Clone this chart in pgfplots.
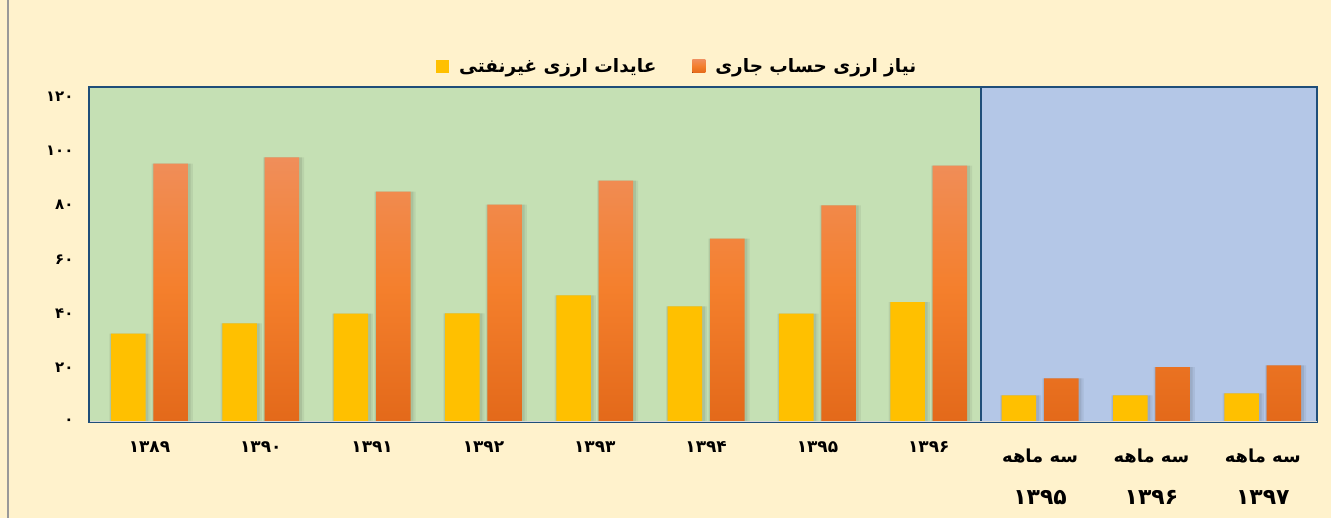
\documentclass[border=0pt]{standalone}
\usepackage{pgfplots}
\pgfplotsset{compat=1.18}
\usepackage{fontspec}
\setmainfont{DejaVu Sans}
\newfontfamily\arabicfont[Script=Arabic]{DejaVu Sans}
\TeXXeTstate=1
\definecolor{bgY}{HTML}{FFF2CC}
\definecolor{grn}{HTML}{C5E0B4}
\definecolor{blu}{HTML}{B4C7E7}
\definecolor{brd}{HTML}{1F4E79}
\definecolor{gold}{HTML}{FFC000}
\definecolor{orT}{HTML}{F08E5A}
\definecolor{orM}{HTML}{F47F2C}
\definecolor{orB}{HTML}{E3691A}
\pgfplotstableread{
x y
0 32.6
1 36.4
2 40.0
3 40.1
4 46.7
5 42.7
6 40.0
7 44.2
8 9.8
9 9.8
10 10.6
}\tblNonOil
\pgfplotstableread{
x y
0 95.3
1 97.6
2 85.0
3 80.2
4 89.1
5 67.7
6 79.9
7 94.6
8 16.1
9 20.2
10 20.9
}\tblNeed
\newcommand\xl[1]{\fontsize{17}{20}\selectfont\arabicfont\bfseries #1}
\newcommand\ql[1]{\begin{tabular}{@{}c@{}}\rule{0pt}{21bp}\fontsize{18}{22}\selectfont\arabicfont\bfseries\beginR سه ماهه\endR\\[24bp]\fontsize{22}{24}\selectfont\arabicfont\bfseries #1\end{tabular}}
\begin{document}
\begin{tikzpicture}
\path (0,0) rectangle (1331bp,518bp);
\begin{axis}[
  set layers,
  at={(89bp,96bp)}, anchor=south west,
  scale only axis, width=1228bp, height=335bp,
  xmin=-0.543, xmax=10.487, ymin=0, ymax=123.6,
  axis line style={draw=none},
  major tick length=0,
  xtick={0,...,10},
  xticklabels={{\xl{۱۳۸۹}},{\xl{۱۳۹۰}},{\xl{۱۳۹۱}},{\xl{۱۳۹۲}},{\xl{۱۳۹۳}},{\xl{۱۳۹۴}},{\xl{۱۳۹۵}},{\xl{۱۳۹۶}},{\ql{۱۳۹۵}},{\ql{۱۳۹۶}},{\ql{۱۳۹۷}}},
  xticklabel style={anchor=north, yshift=-16bp},
  ytick={0,20,40,60,80,100,120},
  yticklabels={۰,۲۰,۴۰,۶۰,۸۰,۱۰۰,۱۲۰},
  yticklabel style={font=\fontsize{15}{18}\selectfont\arabicfont\bfseries, xshift=-12bp},
  legend columns=2,
  legend style={at={(rel axis cs:0.479,1.062)}, anchor=center, draw=none, fill=none,
    font=\fontsize{18.5}{22}\selectfont\arabicfont\bfseries,
    /tikz/every odd column/.append style={column sep=8bp},
    /tikz/every even column/.append style={column sep=34bp}},
  legend image code/.code={\fill[#1] (0bp,-6.5bp) rectangle (13bp,6.5bp);},
]
\begin{pgfonlayer}{axis background}
\fill[bgY] (rel axis cs:-0.07248,-0.28657) rectangle (rel axis cs:1.0114,1.2597);
\draw[line width=1.5bp, black!40] (rel axis cs:-0.06596,-0.28657) -- (rel axis cs:-0.06596,1.2597);
\fill[grn] (axis cs:-0.543,0) rectangle (axis cs:7.47,123.6);
\fill[blu] (axis cs:7.47,0) rectangle (axis cs:10.487,123.6);
\draw[brd, line width=2.5bp] (axis cs:-0.543,0) rectangle (axis cs:7.47,123.6);
\draw[brd, line width=2bp] (axis cs:7.47,0) rectangle (axis cs:10.487,123.6);
\end{pgfonlayer}
\addplot[forget plot, ybar, bar width=0.37, bar shift=-0.175, draw=none, fill=black, opacity=0.06] table[x=x,y=y]{\tblNonOil};
\addplot[forget plot, ybar, bar width=0.37, bar shift=0.205, draw=none, fill=black, opacity=0.06] table[x=x,y=y]{\tblNeed};
\addplot[forget plot, ybar, bar width=0.34, bar shift=-0.18, draw=none, fill=black, opacity=0.08] table[x=x,y=y]{\tblNonOil};
\addplot[forget plot, ybar, bar width=0.34, bar shift=0.20, draw=none, fill=black, opacity=0.08] table[x=x,y=y]{\tblNeed};
\addplot[ybar, bar width=0.31, bar shift=-0.19, draw=none, fill=gold] table[x=x,y=y]{\tblNonOil};
\addlegendentry{\beginR عایدات ارزی غیرنفتی\endR}
\addplot[ybar, bar width=0.31, bar shift=0.19, draw=none, top color=orT, bottom color=orB, middle color=orM] table[x=x,y=y]{\tblNeed};
\addlegendentry{\beginR نیاز ارزی حساب جاری\endR}
\draw[line width=2bp, black!15] (axis cs:-0.53,0) -- (axis cs:10.487,0);
\end{axis}
\end{tikzpicture}
\end{document}
